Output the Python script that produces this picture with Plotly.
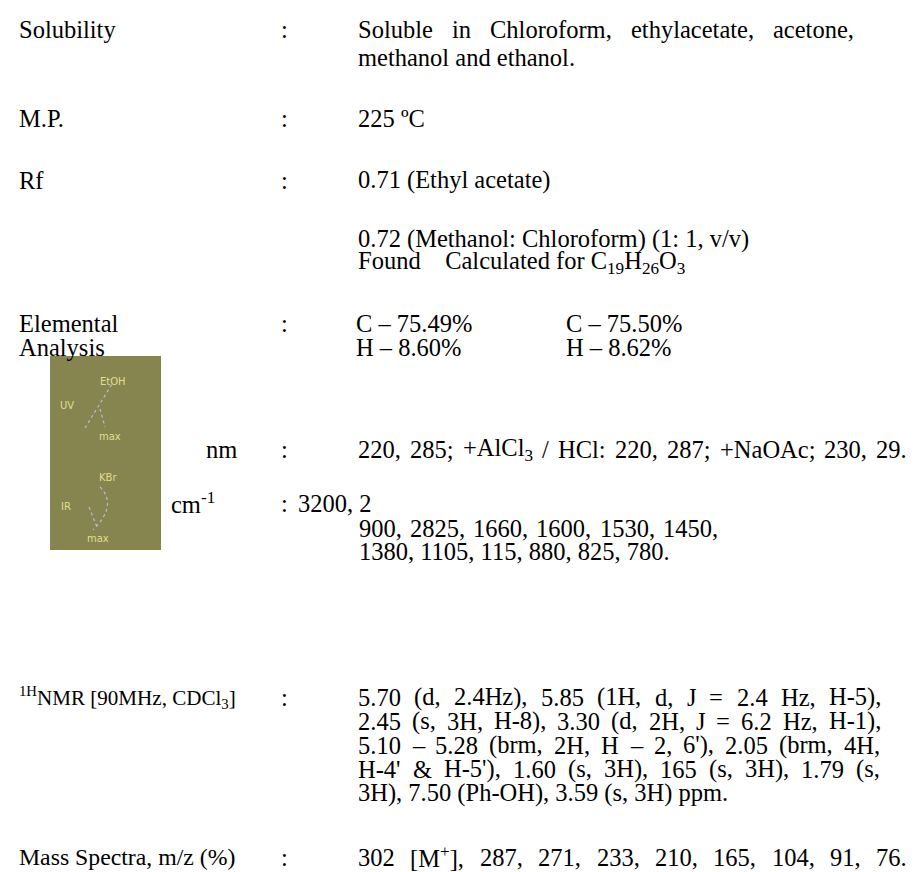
import re
import plotly.graph_objects as go

W, H = 922, 872
FONT = "Liberation Serif"
FS = 24.5

# Property labels (left column) with their row positions and relative sizes
labels = ["Solubility", "M.P.", "Rf", "Elemental", "Analysis", "nm", "cm<sup>-1</sup>",
          "<sup>1H</sup>NMR [90MHz, CDCl<sub>3</sub>]", "Mass Spectra, m/z (%)"]
label_x = [18, 18, 18, 18, 18, 205, 170, 18, 18]
label_y = [29, 118, 180, 323, 347, 449, 503, 697, 857]
label_scale = [1, 1, 1, 1, 1, 1, 1, 0.86, 0.97]

# Colon separators
colon_y = [29, 118, 180, 323, 449, 503, 697, 857]

# Value lines (right column); justify_to = right edge for justified lines (0 = ragged)
values = [
    "Soluble in Chloroform, ethylacetate, acetone,",
    "methanol and ethanol.",
    "225 ºC",
    "0.71 (Ethyl acetate)",
    "0.72 (Methanol: Chloroform) (1: 1, v/v)",
    "Found    Calculated for C<sub>19</sub>H<sub>26</sub>O<sub>3</sub>",
    "C – 75.49%",
    "C – 75.50%",
    "H – 8.60%",
    "H – 8.62%",
    "220, 285; +AlCl<sub>3</sub> / HCl: 220, 287; +NaOAc; 230, 29.",
    "3200, 2",
    "900, 2825, 1660, 1600, 1530, 1450,",
    "1380, 1105, 115, 880, 825, 780.",
    "5.70 (d, 2.4Hz), 5.85 (1H, d, J = 2.4 Hz, H-5),",
    "2.45 (s, 3H, H-8), 3.30 (d, 2H, J = 6.2 Hz, H-1),",
    "5.10 – 5.28 (brm, 2H, H – 2, 6'), 2.05 (brm, 4H,",
    "H-4' &amp; H-5'), 1.60 (s, 3H), 165 (s, 3H), 1.79 (s,",
    "3H), 7.50 (Ph-OH), 3.59 (s, 3H) ppm.",
    "302 [M<sup>+</sup>], 287, 271, 233, 210, 165, 104, 91, 76.",
]
value_x = [357, 357, 357, 357, 357, 357, 355, 565, 355, 565, 357, 297, 358, 358,
           357, 357, 357, 357, 357, 357]
value_y = [29, 57, 118, 180, 239, 262, 323, 323, 347, 347, 449, 503, 528, 551,
           697, 721, 745, 769, 793, 857]
justify_to = [853, 0, 0, 0, 0, 0, 0, 0, 0, 0, 906, 0, 717, 0,
              880, 880, 879, 879, 0, 906]

# Small captions inside the olive spectroscopy image
icon_text = ["EtOH", "UV", "max", "KBr", "IR", "max"]
icon_x = [113, 67, 110, 108, 66, 98]
icon_y = [381, 405, 436, 477, 506, 538]

# Times / Liberation Serif advance widths (per 1000 em)
TW = {' ': 250, '!': 333, '%': 833, '&': 778, "'": 180, '(': 333, ')': 333, '+': 564,
      ',': 250, '-': 333, '.': 250, '/': 278, ':': 278, ';': 278, '=': 564, '[': 333,
      ']': 333, '–': 500, 'º': 310,
      'A': 722, 'B': 667, 'C': 667, 'D': 722, 'E': 611, 'F': 556, 'G': 722, 'H': 722,
      'I': 333, 'J': 389, 'K': 722, 'L': 611, 'M': 889, 'N': 722, 'O': 722, 'P': 556,
      'Q': 722, 'R': 667, 'S': 556, 'T': 611, 'U': 722, 'V': 722, 'W': 944, 'X': 722,
      'Y': 722, 'Z': 611,
      'a': 444, 'b': 500, 'c': 444, 'd': 500, 'e': 444, 'f': 333, 'g': 500, 'h': 500,
      'i': 278, 'j': 278, 'k': 500, 'l': 278, 'm': 778, 'n': 500, 'o': 500, 'p': 500,
      'q': 500, 'r': 333, 's': 389, 't': 278, 'u': 500, 'v': 500, 'w': 722, 'x': 500,
      'y': 500, 'z': 444}
for d in "0123456789":
    TW[d] = 500


def text_width(s, size):
    s = s.replace("&amp;", "&")
    total = 0.0
    scale = 1.0
    for part in re.split(r"(</?su[bp]>)", s):
        if part in ("<sub>", "<sup>"):
            scale = 0.7
        elif part in ("</sub>", "</sup>"):
            scale = 1.0
        else:
            total += sum(TW.get(ch, 500) for ch in part) * scale
    return total * size / 1000.0


fig = go.Figure()

# Olive image block
fig.add_shape(type="rect", x0=50, x1=161, y0=356, y1=550,
              fillcolor="#86844F", line=dict(width=0), layer="below")
stroke = dict(color="#B9BCD6", width=1.2, dash="dot")
fig.add_shape(type="line", x0=85, y0=428, x1=112, y1=384, line=stroke)
fig.add_shape(type="line", x0=100, y0=409, x1=105, y1=427, line=stroke)
fig.add_shape(type="path", path="M 100 487 Q 118 505 93 530", line=stroke)
fig.add_shape(type="line", x0=89, y0=507, x1=97, y1=527, line=stroke)

for t, x, y in zip(icon_text, icon_x, icon_y):
    fig.add_annotation(x=x, y=y, text=t, showarrow=False, xanchor="center", yanchor="middle",
                       borderpad=0,
                       font=dict(family="DejaVu Sans", size=10, color="#E2DF8C"))


def put(t, x, y, size=FS):
    fig.add_annotation(x=x, y=y, text=t, showarrow=False, xanchor="left", yanchor="middle",
                       borderpad=0, font=dict(family=FONT, size=size, color="black"))


for t, x, y, s in zip(labels, label_x, label_y, label_scale):
    put(t, x, y, FS * s)
for y in colon_y:
    put(":", 280, y)
for t, x, y, r in zip(values, value_x, value_y, justify_to):
    if not r:
        put(t, x, y)
        continue
    words = t.split(" ")
    widths = [text_width(w, FS) for w in words]
    gap = max((r - x - sum(widths)) / (len(words) - 1), FS * 0.25)
    cx = x
    for w, ww in zip(words, widths):
        put(w, cx, y)
        cx += ww + gap

fig.update_xaxes(range=[0, W], visible=False, fixedrange=True)
fig.update_yaxes(range=[H, 0], visible=False, fixedrange=True)
fig.update_layout(width=W, height=H, margin=dict(l=0, r=0, t=0, b=0),
                  paper_bgcolor="white", plot_bgcolor="white", showlegend=False)

fig.write_html("out.html", config={"displayModeBar": False},
               post_script="document.body.style.margin='0px';")
